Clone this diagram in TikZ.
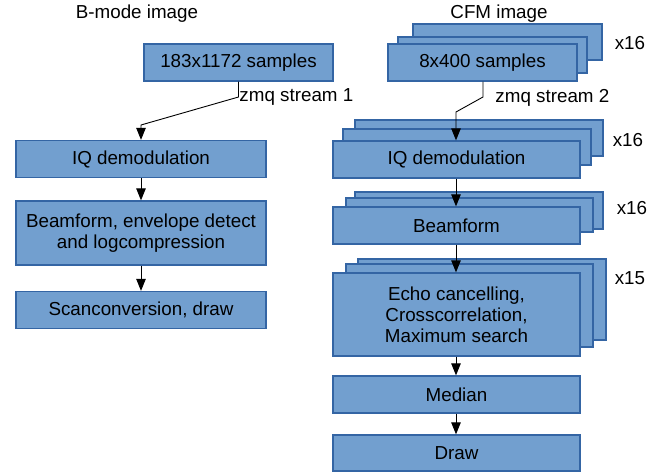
\documentclass[tikz,border=0pt]{standalone}
\usepackage{fontspec}
\setmainfont{Liberation Sans}
\usetikzlibrary{positioning}
\usetikzlibrary{arrows.meta}
\definecolor{boxfill}{HTML}{729FCF}
\definecolor{boxline}{HTML}{3465A4}
\tikzset{
	-{Triangle[length=12pt,width=9.5pt]},
	every node/.style={align=center,inner sep=0pt,font=\fontsize{18.8}{21}\selectfont},
	every path/.style={line width=0.9pt},
	block/.style={rectangle, draw=boxline, fill=boxfill, line width=1.3pt, minimum width=250pt, minimum height=37pt},
	back/.style={block, minimum width=248pt, minimum height=36pt},
	lbl/.style={anchor=west}
}

\begin{document}
\begin{tikzpicture}[x=1pt,y=-1pt]
	\useasboundingbox (0,0) rectangle (670,475);

	% B-mode column
	\node (t1) at (137, 14) {B-mode image};
	\node[block, minimum width=189pt] (s1) at (238.5, 62.5) {183x1172 samples};
	\node[block] (a1) at (141, 159) {IQ demodulation};
	\node[block, minimum height=64pt] (b1) at (141, 233) {Beamform, envelope detect\\and logcompression};
	\node[block] (c1) at (141, 310) {Scanconversion, draw};

	\coordinate (k1) at (238.5, 97);
	\coordinate (k2) at (141, 125);
	\node[lbl] (z1) at (239, 97) {zmq stream 1};

	\draw (s1.south) -- (k1) -- (k2) -- (a1.north);
	\draw (a1) -- (b1);
	\draw (b1) -- (c1);

	% CFM column
	\node (t2) at (499, 14) {CFM image};
	\node[back, minimum width=189pt] (s2c) at (507.5, 42) {};
	\node[back, minimum width=189pt] (s2b) at (492.5, 55) {};
	\node[block, minimum width=189pt] (s2) at (482.5, 62.5) {8x400 samples};
	\node (n1) at (630, 43) {x16};

	\node[back] (a2c) at (479, 138) {};
	\node[back] (a2b) at (467, 147) {};
	\node[block, minimum width=247pt] (a2) at (456.5, 159.5) {IQ demodulation};
	\node (n2) at (628, 140) {x16};

	\node[back, minimum height=37pt] (b2c) at (479, 210.5) {};
	\node[back, minimum width=247pt, minimum height=34pt] (b2b) at (469.5, 215) {};
	\node[block, minimum width=247pt] (b2) at (456.5, 225.5) {Beamform};
	\node (n3) at (632, 208) {x16};

	\node[back, minimum height=81pt] (e2c) at (482, 299.5) {};
	\node[back, minimum width=247pt, minimum height=83pt] (e2b) at (469.5, 305.5) {};
	\node[block, minimum width=247pt, minimum height=83pt] (e2) at (456.5, 314.5) {Echo cancelling,\\Crosscorrelation,\\Maximum search};
	\node (n4) at (630, 278) {x15};

	\node[block, minimum width=247pt] (m2) at (456.5, 394.5) {Median};
	\node[block, minimum width=247pt, minimum height=36pt] (d2) at (456.5, 453) {Draw};

	\coordinate (k3) at (483, 97);
	\coordinate (k4) at (456, 112);
	\node[lbl] (z2) at (495, 98) {zmq stream 2};

	\draw (s2.south -| k3) -- (k3) -- (k4) -- (a2.north -| k4);
	\draw (a2.south -| k4) -- (b2.north -| k4);
	\draw (b2.south -| k4) -- (e2.north -| k4);
	\draw (e2.south -| k4) -- (m2.north -| k4);
	\draw (m2.south -| k4) -- (d2.north -| k4);

\end{tikzpicture}
\end{document}
